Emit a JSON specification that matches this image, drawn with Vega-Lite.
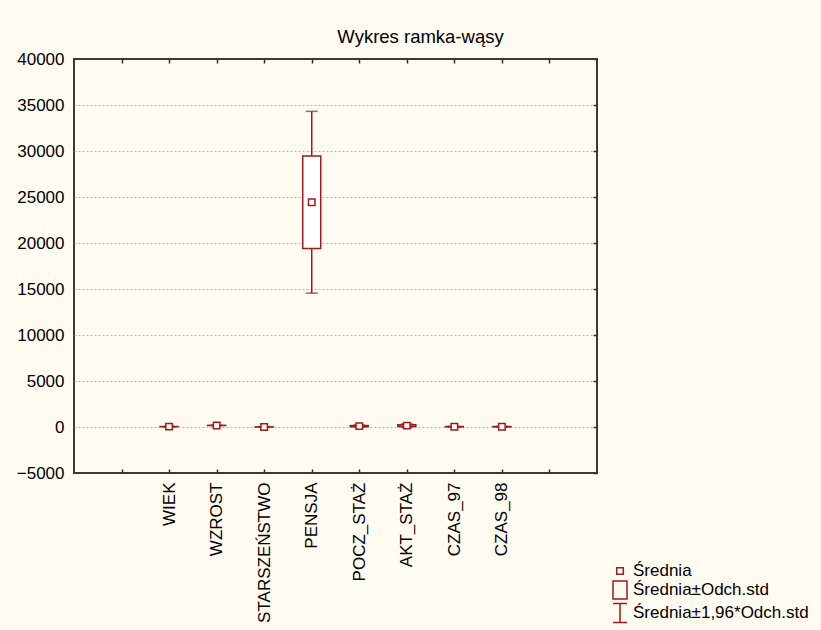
{
  "$schema": "https://vega.github.io/schema/vega-lite/v6.json",
  "autosize": {"type": "none"},
  "padding": {"left": 74, "top": 59, "right": 224, "bottom": 157},
  "width": 523,
  "height": 414,
  "background": "#FFFBF0",
  "title": {
    "text": "Wykres ramka-wąsy",
    "font": "Liberation Sans",
    "fontSize": 18.5,
    "fontWeight": "normal",
    "color": "#000000",
    "dx": 85,
    "dy": 24,
    "offset": 13,
    "baseline": "alphabetic"
  },
  "datasets": {
    "stats": [
      {"zmienna": "WIEK", "srednia": 40, "sd_lo": 30, "sd_hi": 50, "ci_lo": 20, "ci_hi": 60},
      {"zmienna": "WZROST", "srednia": 172, "sd_lo": 163, "sd_hi": 181, "ci_lo": 154, "ci_hi": 190},
      {"zmienna": "STARSZEŃSTWO", "srednia": 12, "sd_lo": 5, "sd_hi": 19, "ci_lo": -2, "ci_hi": 26},
      {"zmienna": "PENSJA", "srednia": 24430, "sd_lo": 19390, "sd_hi": 29470, "ci_lo": 14552, "ci_hi": 34308},
      {"zmienna": "POCZ_STAŻ", "srednia": 95, "sd_lo": 35, "sd_hi": 155, "ci_lo": -23, "ci_hi": 213},
      {"zmienna": "AKT_STAŻ", "srednia": 150, "sd_lo": 50, "sd_hi": 250, "ci_lo": -46, "ci_hi": 346},
      {"zmienna": "CZAS_97", "srednia": 30, "sd_lo": 10, "sd_hi": 50, "ci_lo": -9, "ci_hi": 69},
      {"zmienna": "CZAS_98", "srednia": 32, "sd_lo": 12, "sd_hi": 52, "ci_lo": -7, "ci_hi": 71}
    ],
    "legenda": [
      {"element": "Średnia"},
      {"element": "Średnia±Odch.std"},
      {"element": "Średnia±1,96*Odch.std"}
    ]
  },
  "data": {"name": "stats"},
  "resolve": {"axis": {"x": "independent", "y": "independent"}},
  "layer": [
    {
      "mark": {"type": "rule", "color": "#9B1C1C", "strokeWidth": 1.5},
      "encoding": {
        "x": {
          "field": "zmienna",
          "type": "nominal",
          "scale": {"type": "point", "padding": 1, "domain": [" ", "WIEK", "WZROST", "STARSZEŃSTWO", "PENSJA", "POCZ_STAŻ", "AKT_STAŻ", "CZAS_97", "CZAS_98", "  "]},
          "axis": {
            "orient": "bottom",
            "title": null,
            "domain": false,
            "labelAngle": 270,
            "labelAlign": "right",
            "labelBaseline": "middle",
            "labelFont": "Liberation Sans",
            "labelFontSize": 17,
            "labelColor": "#000000",
            "labelPadding": 13,
            "tickSize": -4,
            "tickColor": "#303030",
            "tickWidth": 1.5,
            "grid": false
          }
        },
        "y": {
          "field": "ci_lo",
          "type": "quantitative",
          "scale": {"domain": [-5000, 40000], "nice": false, "zero": false},
          "axis": {
            "orient": "left",
            "title": null,
            "domain": false,
            "ticks": false,
            "values": [-5000, 0, 5000, 10000, 15000, 20000, 25000, 30000, 35000, 40000],
            "format": "d",
            "labelFont": "Liberation Sans",
            "labelFontSize": 17,
            "labelColor": "#000000",
            "labelPadding": 10,
            "grid": true,
            "gridColor": {"condition": {"test": "datum.value == -5000 || datum.value == 40000", "value": "transparent"}, "value": "#B4B4B4"},
            "gridDash": [2, 2],
            "gridWidth": 1
          }
        },
        "y2": {"field": "ci_hi"}
      }
    },
    {
      "mark": {"type": "tick", "color": "#9B1C1C", "thickness": 1.5, "size": 12},
      "encoding": {
        "x": {"field": "zmienna", "type": "nominal", "axis": null},
        "y": {"field": "ci_lo", "type": "quantitative", "axis": null}
      }
    },
    {
      "mark": {"type": "tick", "color": "#9B1C1C", "thickness": 1.5, "size": 12},
      "encoding": {
        "x": {"field": "zmienna", "type": "nominal", "axis": null},
        "y": {"field": "ci_hi", "type": "quantitative", "axis": null}
      }
    },
    {
      "mark": {"type": "bar", "fill": "#FFFFFF", "stroke": "#9B1C1C", "strokeWidth": 1.5, "size": 18},
      "encoding": {
        "x": {"field": "zmienna", "type": "nominal", "axis": null},
        "y": {"field": "sd_lo", "type": "quantitative", "axis": null},
        "y2": {"field": "sd_hi"}
      }
    },
    {
      "mark": {"type": "point", "shape": "square", "filled": true, "fill": "#FFFFFF", "stroke": "#9B1C1C", "strokeWidth": 1.5, "size": 42, "opacity": 1},
      "encoding": {
        "x": {
          "field": "zmienna",
          "type": "nominal",
          "axis": {"orient": "top", "title": null, "labels": false, "domain": false, "grid": false, "tickSize": -4, "tickColor": "#303030", "tickWidth": 1.5}
        },
        "y": {
          "field": "srednia",
          "type": "quantitative",
          "axis": {"orient": "right", "title": null, "labels": false, "domain": false, "grid": false, "tickSize": -4, "tickColor": "#303030", "tickWidth": 1.5, "values": [-5000, 0, 5000, 10000, 15000, 20000, 25000, 30000, 35000, 40000]}
        }
      }
    },
    {
      "data": {"name": "legenda"},
      "mark": {"type": "point", "filled": false, "color": "#9B1C1C", "strokeWidth": 1.5, "opacity": 0},
      "encoding": {
        "shape": {
          "field": "element",
          "type": "nominal",
          "scale": {
            "domain": ["Średnia", "Średnia±Odch.std", "Średnia±1,96*Odch.std"],
            "range": ["M-0.33,-0.33H0.33V0.33H-0.33Z", "M-0.7,-0.9H0.7V0.9H-0.7Z", "M-0.7,-0.95H0.7M0,-0.95V0.95M-0.7,0.95H0.7"]
          },
          "legend": {
            "title": null,
            "orient": "none",
            "legendX": 535,
            "legendY": 501,
            "padding": 0,
            "symbolSize": 400,
            "symbolStrokeColor": "#9B1C1C",
            "symbolFillColor": "transparent",
            "symbolStrokeWidth": 1.5,
            "symbolOpacity": 1,
            "labelFont": "Liberation Sans",
            "labelFontSize": 17,
            "labelColor": "#000000",
            "labelOffset": 2,
            "labelLimit": 300,
            "rowPadding": -2,
            "encode": {"symbols": {"update": {"opacity": {"value": 1}, "strokeOpacity": {"value": 1}}}}
          }
        }
      }
    }
  ],
  "config": {
    "view": {"fill": "#FFFFFF", "stroke": "#3A3A3A", "strokeWidth": 2}
  }
}
